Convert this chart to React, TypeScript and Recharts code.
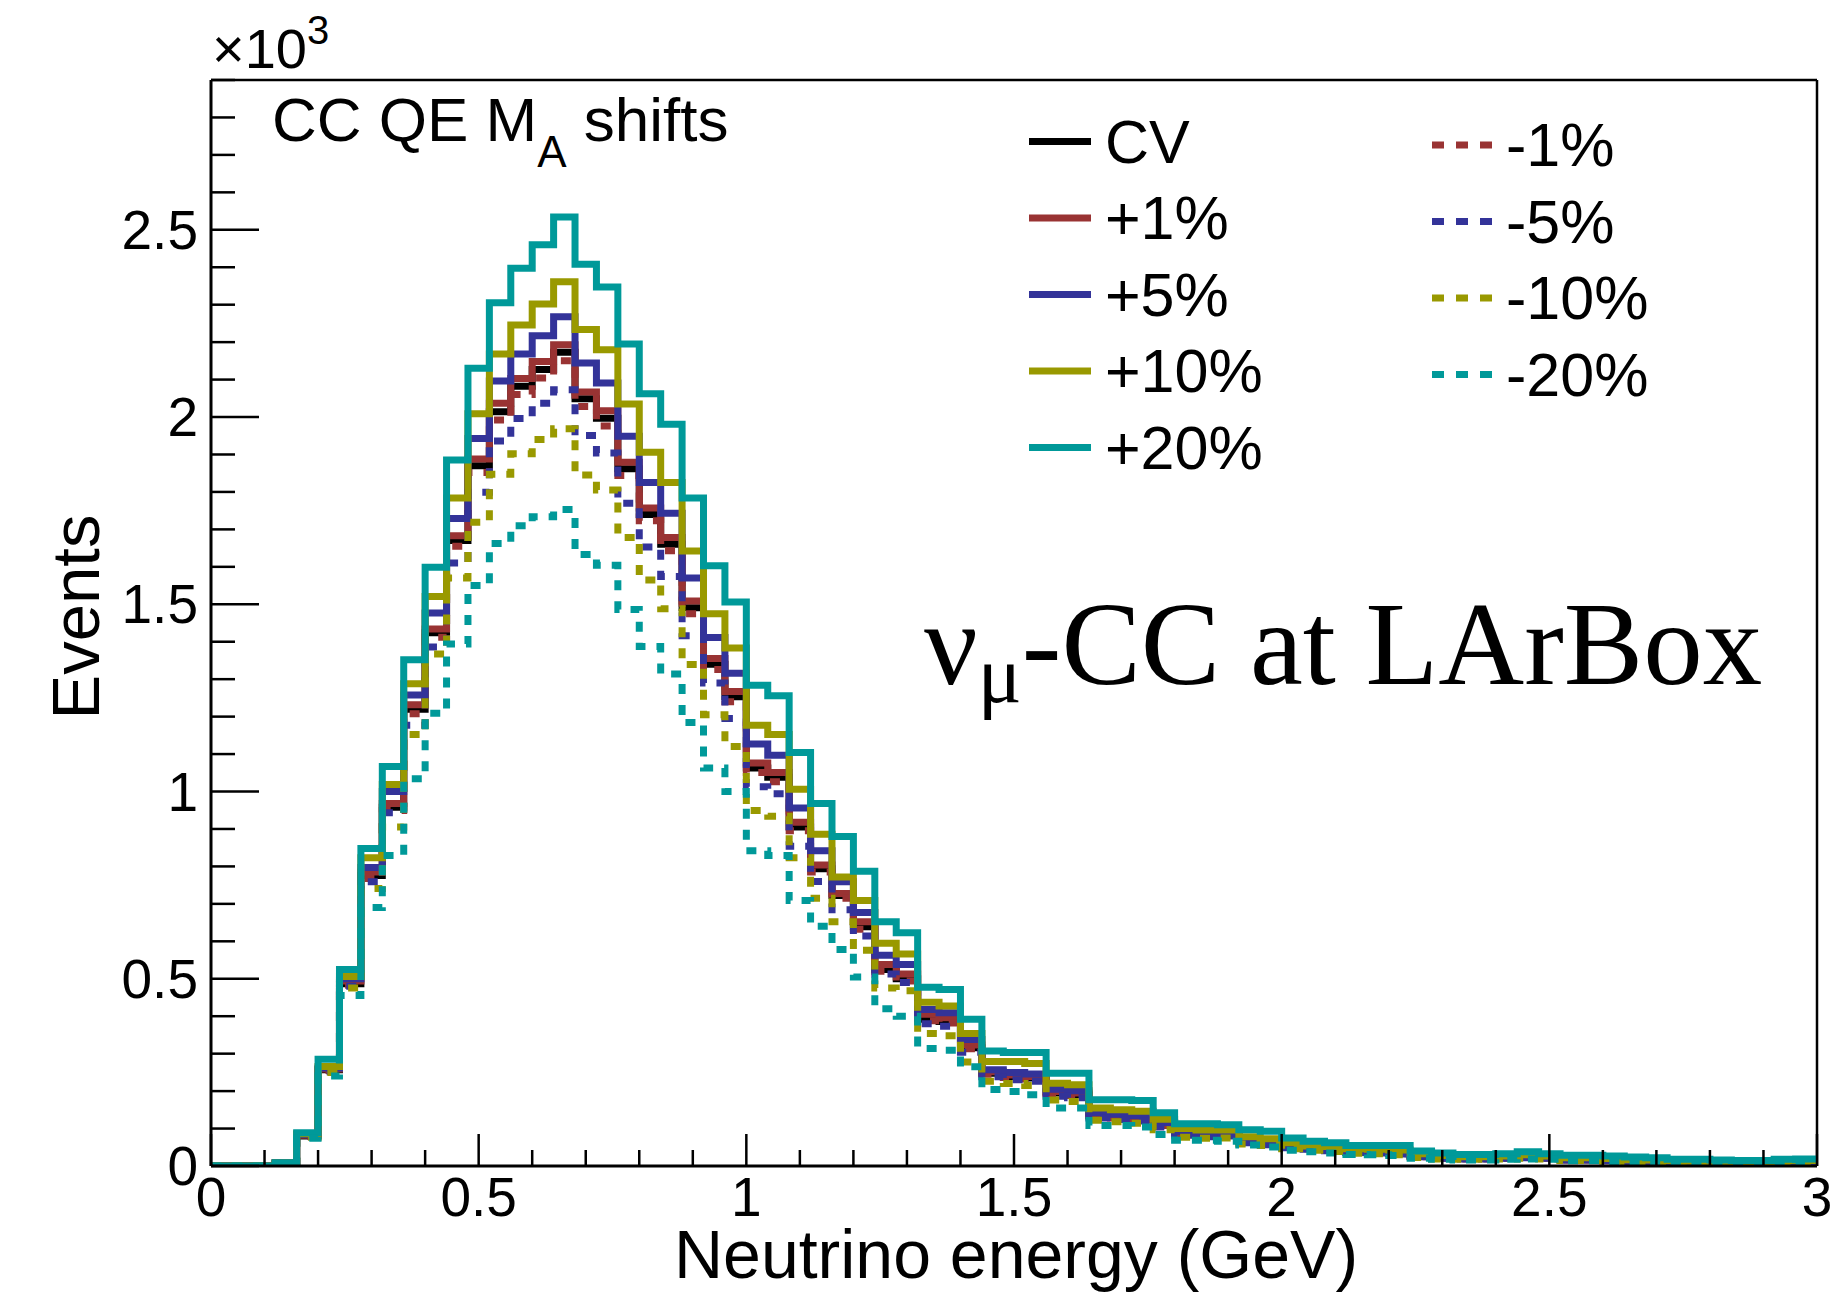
import React from "react";
import { LineChart, Line, XAxis, YAxis, ReferenceLine } from "recharts";

// Bin edges (GeV), 0.04 GeV bins from 0 to 3
const binEdges = [
  0, 0.04, 0.08, 0.12, 0.16, 0.2, 0.24, 0.28, 0.32, 0.36, 0.4, 0.44, 0.48, 0.52, 0.56, 0.6, 0.64, 0.68, 0.72, 0.76,
  0.8, 0.84, 0.88, 0.92, 0.96, 1.0, 1.04, 1.08, 1.12, 1.16, 1.2, 1.24, 1.28, 1.32, 1.36, 1.4, 1.44, 1.48, 1.52, 1.56,
  1.6, 1.64, 1.68, 1.72, 1.76, 1.8, 1.84, 1.88, 1.92, 1.96, 2.0, 2.04, 2.08, 2.12, 2.16, 2.2, 2.24, 2.28, 2.32, 2.36,
  2.4, 2.44, 2.48, 2.52, 2.56, 2.6, 2.64, 2.68, 2.72, 2.76, 2.8, 2.84, 2.88, 2.92, 2.96, 3.0,
];

const cv = [
  0, 0, 0, 8, 80, 257, 487, 776, 958, 1220, 1424, 1670, 1870, 2014, 2082, 2127, 2173, 2049, 1997, 1862,
  1740, 1660, 1491, 1340, 1253, 1063, 1038, 905, 794, 722, 639, 525, 500, 392, 386, 316, 248, 239, 235, 195,
  190, 135, 130, 126, 109, 86, 82, 84, 65, 60, 52, 47, 43, 38, 37, 34, 26, 22, 20, 20,
  22, 24, 22, 17, 17, 15, 13, 12, 11, 10, 9, 8, 8, 10, 12,
];
const plus1 = [
  0, 0, 0, 8, 82, 259, 494, 785, 968, 1232, 1434, 1683, 1888, 2037, 2103, 2148, 2193, 2067, 2017, 1879,
  1757, 1678, 1509, 1355, 1267, 1076, 1051, 918, 804, 728, 652, 538, 513, 405, 396, 323, 252, 243, 239, 199,
  195, 137, 133, 128, 111, 88, 84, 86, 66, 62, 53, 49, 44, 40, 38, 35, 27, 23, 21, 21,
  23, 25, 23, 18, 18, 16, 14, 13, 12, 11, 10, 9, 9, 11, 13,
];
const plus5 = [
  0, 0, 0, 8, 84, 262, 500, 797, 1000, 1258, 1477, 1729, 1943, 2096, 2168, 2217, 2268, 2144, 2091, 1949,
  1825, 1743, 1570, 1411, 1316, 1127, 1097, 956, 842, 759, 677, 563, 538, 418, 409, 338, 257, 250, 246, 205,
  201, 142, 138, 134, 116, 92, 88, 90, 70, 65, 56, 52, 47, 42, 41, 37, 29, 24, 22, 22,
  24, 27, 24, 19, 19, 17, 15, 14, 13, 12, 11, 10, 9, 12, 14,
];
const plus10 = [
  0, 0, 0, 8, 86, 266, 506, 823, 1019, 1288, 1521, 1784, 2009, 2168, 2246, 2302, 2361, 2234, 2180, 2035,
  1906, 1825, 1642, 1475, 1383, 1177, 1152, 1006, 886, 772, 709, 595, 566, 437, 427, 354, 279, 279, 274, 221,
  217, 155, 150, 146, 125, 100, 96, 96, 78, 73, 62, 56, 52, 46, 45, 43, 33, 28, 25, 25,
  27, 30, 27, 22, 22, 20, 17, 16, 14, 13, 12, 11, 11, 14, 15,
];
const plus20 = [
  0, 0, 0, 9, 89, 285, 525, 848, 1067, 1352, 1599, 1885, 2130, 2305, 2397, 2460, 2534, 2408, 2347, 2195,
  2062, 1981, 1784, 1603, 1506, 1284, 1256, 1104, 968, 880, 787, 652, 623, 477, 471, 392, 307, 303, 303, 248,
  248, 177, 177, 175, 142, 113, 113, 110, 97, 93, 75, 66, 62, 55, 55, 55, 40, 35, 31, 31,
  33, 38, 33, 29, 29, 27, 24, 22, 18, 18, 16, 15, 15, 18, 19,
];
const minus1 = [
  0, 0, 0, 8, 79, 255, 483, 768, 949, 1208, 1412, 1655, 1852, 1992, 2060, 2104, 2150, 2028, 1976, 1844,
  1723, 1643, 1475, 1326, 1240, 1051, 1026, 895, 785, 715, 632, 520, 494, 388, 382, 313, 245, 236, 232, 193,
  188, 133, 128, 124, 108, 85, 81, 83, 64, 59, 51, 46, 42, 37, 36, 33, 25, 21, 19, 19,
  21, 23, 21, 16, 16, 14, 12, 11, 10, 9, 8, 7, 7, 9, 11,
];
const minus5 = [
  0, 0, 0, 8, 78, 252, 480, 759, 943, 1177, 1386, 1610, 1799, 1936, 1996, 2037, 2073, 1951, 1904, 1770,
  1653, 1574, 1416, 1290, 1195, 1013, 994, 854, 760, 684, 614, 513, 490, 380, 373, 304, 238, 230, 226, 186,
  182, 128, 124, 120, 104, 82, 78, 80, 62, 57, 49, 45, 41, 36, 35, 32, 25, 21, 19, 19,
  21, 22, 21, 16, 16, 14, 12, 11, 10, 9, 8, 8, 7, 9, 11,
];
const minus10 = [
  0, 0, 0, 7, 77, 250, 475, 741, 905, 1152, 1367, 1570, 1719, 1847, 1902, 1940, 1969, 1845, 1805, 1678,
  1565, 1488, 1339, 1205, 1120, 949, 934, 823, 715, 652, 576, 475, 468, 354, 348, 278, 226, 220, 215, 176,
  172, 122, 118, 114, 97, 77, 74, 75, 59, 55, 46, 42, 39, 34, 33, 30, 23, 19, 18, 18,
  19, 21, 19, 15, 15, 13, 11, 10, 9, 8, 8, 7, 7, 8, 10,
];
const minus20 = [
  0, 0, 0, 7, 74, 240, 455, 690, 829, 1034, 1209, 1394, 1550, 1662, 1710, 1734, 1753, 1633, 1604, 1486,
  1387, 1314, 1184, 1063, 1000, 842, 829, 709, 640, 578, 505, 420, 400, 314, 309, 265, 204, 199, 190, 155,
  155, 108, 108, 104, 84, 69, 69, 66, 56, 51, 42, 38, 35, 31, 30, 28, 21, 18, 16, 16,
  18, 19, 18, 14, 14, 12, 10, 9, 8, 7, 7, 6, 6, 7, 9,
];

const xTicks = [
  0, 0.1, 0.2, 0.3, 0.4, 0.5, 0.6, 0.7, 0.8, 0.9, 1.0, 1.1, 1.2, 1.3, 1.4, 1.5, 1.6, 1.7, 1.8, 1.9,
  2.0, 2.1, 2.2, 2.3, 2.4, 2.5, 2.6, 2.7, 2.8, 2.9, 3.0,
];
const yTicks = [
  0, 100, 200, 300, 400, 500, 600, 700, 800, 900, 1000, 1100, 1200, 1300, 1400, 1500, 1600, 1700, 1800,
  1900, 2000, 2100, 2200, 2300, 2400, 2500, 2600, 2700, 2800, 2900,
];

const seriesValues: Record<string, number[]> = {
  cv, plus1, plus5, plus10, plus20, minus1, minus5, minus10, minus20,
};

// Style configuration (draw order)
const series = [
  { key: "cv", label: "CV", color: "#000000", dashed: false },
  { key: "plus1", label: "+1%", color: "#993333", dashed: false },
  { key: "minus1", label: "-1%", color: "#993333", dashed: true },
  { key: "plus5", label: "+5%", color: "#333399", dashed: false },
  { key: "minus5", label: "-5%", color: "#333399", dashed: true },
  { key: "plus10", label: "+10%", color: "#999900", dashed: false },
  { key: "minus10", label: "-10%", color: "#999900", dashed: true },
  { key: "plus20", label: "+20%", color: "#009999", dashed: false },
  { key: "minus20", label: "-20%", color: "#009999", dashed: true },
];
const legendLeft = ["cv", "plus1", "plus5", "plus10", "plus20"];
const legendRight = ["minus1", "minus5", "minus10", "minus20"];

const nBins = cv.length;
const tableData = binEdges.map((e, i) => {
  const row: Record<string, number> = { e };
  const idx = Math.min(i, nBins - 1);
  Object.keys(seriesValues).forEach((k) => {
    row[k] = seriesValues[k][idx];
  });
  return row;
});

const W = 1834;
const H = 1294;
const M = { top: 80, right: 17, bottom: 0, left: 0 };
const FONT = "'Liberation Sans', Arial, Helvetica, sans-serif";
const SERIF = "'Liberation Serif', 'Times New Roman', serif";
const LW = 7;

const fmt = (v: number) => String(Number(v.toFixed(1)));

const XTick = (props: any) => {
  const { x, y, payload } = props;
  const v = payload.value as number;
  const major = Math.abs(v * 2 - Math.round(v * 2)) < 1e-6;
  return (
    <g>
      <line x1={x} y1={y} x2={x} y2={y - (major ? 32 : 16)} stroke="#000" strokeWidth={2.5} />
      {major && (
        <text x={x} y={y + 50} textAnchor="middle" fontSize={55} fontFamily={FONT} fill="#000">
          {fmt(v)}
        </text>
      )}
    </g>
  );
};

const YTick = (props: any) => {
  const { x, y, payload } = props;
  const v = payload.value as number;
  const major = v % 500 === 0;
  return (
    <g>
      <line x1={x} y1={y} x2={x + (major ? 48 : 24)} y2={y} stroke="#000" strokeWidth={2.5} />
      {major && (
        <text x={x - 13} y={y + 19} textAnchor="end" fontSize={55} fontFamily={FONT} fill="#000">
          {fmt(v / 1000)}
        </text>
      )}
    </g>
  );
};

const byKey = (k: string) => series.find((s) => s.key === k)!;

export default function App() {
  const rowH = 76.5;
  return (
    <div style={{ position: "absolute", left: 0, top: 0, width: W, height: H, background: "#fff" }}>
      <LineChart width={W} height={H} data={tableData} margin={M}>
        <XAxis
          dataKey="e"
          type="number"
          domain={[0, 3]}
          ticks={xTicks}
          interval={0}
          height={128}
          tickSize={0}
          tickMargin={0}
          tick={<XTick />}
          tickLine={false}
          axisLine={{ stroke: "#000", strokeWidth: 3 }}
          allowDataOverflow
        />
        <YAxis
          type="number"
          domain={[0, 2900]}
          ticks={yTicks}
          interval={0}
          width={211}
          tickSize={0}
          tickMargin={0}
          tick={<YTick />}
          tickLine={false}
          axisLine={{ stroke: "#000", strokeWidth: 3 }}
          allowDataOverflow
        />
        <ReferenceLine y={2900} stroke="#000" strokeWidth={2.5} />
        <ReferenceLine x={3} stroke="#000" strokeWidth={2.5} />
        {series.map((s) => (
          <Line
            key={s.key}
            type="stepAfter"
            dataKey={s.key}
            stroke={s.color}
            strokeWidth={LW}
            strokeDasharray={s.dashed ? "10 11" : undefined}
            dot={false}
            activeDot={false}
            isAnimationActive={false}
          />
        ))}
      </LineChart>
      <svg
        width={W}
        height={H}
        style={{ position: "absolute", left: 0, top: 0, pointerEvents: "none" }}
      >
        <text x={212} y={68} fontSize={56} fontFamily={FONT} fill="#000">
          ×10<tspan dy={-24} fontSize={40}>3</tspan>
        </text>
        <text x={272} y={141} fontSize={62} fontFamily={FONT} fill="#000">
          CC QE M<tspan dy={26} fontSize={44}>A</tspan>
          <tspan dy={-26}> shifts</tspan>
        </text>
        {legendLeft.map((k, i) => {
          const s = byKey(k);
          const cy = 141.5 + i * rowH;
          return (
            <g key={k}>
              <line x1={1029} y1={cy} x2={1091} y2={cy} stroke={s.color} strokeWidth={LW} />
              <text x={1105} y={cy + 21} fontSize={61} fontFamily={FONT} fill="#000">
                {s.label}
              </text>
            </g>
          );
        })}
        {legendRight.map((k, i) => {
          const s = byKey(k);
          const cy = 145 + i * rowH;
          return (
            <g key={k}>
              <line
                x1={1432}
                y1={cy}
                x2={1492}
                y2={cy}
                stroke={s.color}
                strokeWidth={LW}
                strokeDasharray="12 12"
              />
              <text x={1506} y={cy + 21} fontSize={61} fontFamily={FONT} fill="#000">
                {s.label}
              </text>
            </g>
          );
        })}
        <text x={924} y={684} fontSize={119} fontFamily={SERIF} fill="#000">
          ν<tspan dy={18} fontSize={82}>μ</tspan>
          <tspan dy={-18}>-CC at LArBox</tspan>
        </text>
        <text
          x={1016}
          y={1278}
          textAnchor="middle"
          fontSize={68}
          fontFamily={FONT}
          fill="#000"
        >
          Neutrino energy (GeV)
        </text>
        <text
          transform="translate(99,617) rotate(-90)"
          textAnchor="middle"
          fontSize={67}
          fontFamily={FONT}
          fill="#000"
        >
          Events
        </text>
      </svg>
    </div>
  );
}
